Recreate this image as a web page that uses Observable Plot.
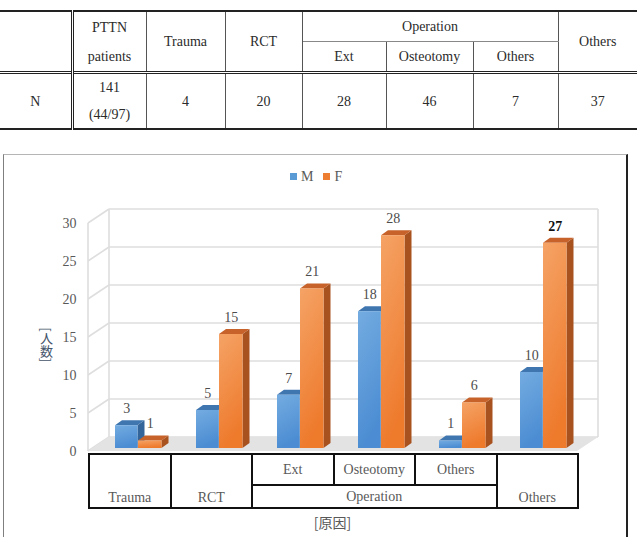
<!DOCTYPE html>
<html>
<head>
<meta charset="utf-8">
<script src="https://cdn.jsdelivr.net/npm/d3@7"></script>
<script src="https://cdn.jsdelivr.net/npm/@observablehq/plot@0.6"></script>
<style>
  html, body { margin: 0; padding: 0; background: #fff; width: 637px; height: 537px; overflow: hidden; }
  body { position: relative; }
  #summary {
    position: absolute; left: 0; top: 10px; width: 637px;
    border-collapse: collapse; table-layout: fixed;
    font: 14px "Liberation Serif", serif; color: #2b2b2b;
  }
  #summary th, #summary td { border: 1px solid #555; padding: 0; text-align: center; font-weight: normal; }
  #summary tr.h1 th { height: 29px; border-top: 2px solid #222; }
  #summary tr.h2 th { height: 29px; }
  #summary tr.n td { height: 51px; line-height: 27px; border-top: 3px double #222; border-bottom: 2px solid #222; }
  #summary .two { line-height: 29px; }
  #summary .corner { border-right: 3px double #222; border-left: none; }
  #summary .last { border-right: none; }
  #summary .op { border-bottom: 1px solid #888; }

  #chart-box {
    position: absolute; left: 3px; top: 154px; width: 622px; height: 420px;
    border-left: 1px solid #7f7f7f; border-top: 1px solid #b5b5b5; border-right: 2px solid #222;
    pointer-events: none;
  }
  #plot { position: absolute; left: 0; top: 150px; }
  #legend { position: absolute; left: 290px; top: 160px; }
  #legend, #legend * { font-family: "Liberation Serif", serif !important; font-size: 14px !important; color: #595959 !important; font-weight: normal !important; }
  #legend > div { margin: 0 !important; }
  #legend span { margin-right: 10px !important; }
  #legend span > svg { margin-right: 4px !important; }

  #cause-table {
    position: absolute; border-collapse: collapse; table-layout: fixed;
    font: 14px "Liberation Serif", serif; color: #595959;
  }
  #cause-table td { border: 2px solid #111; padding: 0; text-align: center; }
  #cause-table tr.r1 td { height: 29px; }
  #cause-table tr.r2 td { height: 21px; }
  #cause-table td.tall { vertical-align: bottom; padding-bottom: 1px; }
  #x-title {
    position: absolute; top: 512px; text-align: center;
    font: 14px "Noto Sans CJK JP", sans-serif; color: #595959;
  }
</style>
</head>
<body>
<div id="plot"></div>
<div id="legend"></div>
<div id="chart-box"></div>
<script>
// Summary table of PTTN patients by cause
const summaryHeads = ["PTTN\npatients", "Trauma", "RCT", "Operation", "Others"];
const operationHeads = ["Ext", "Osteotomy", "Others"];
const summaryRowLabel = "N";
const summaryCounts = ["141\n(44/97)", "4", "20", "28", "46", "7", "37"];

// Bar chart: patients by cause and sex
const causes = ["Trauma", "RCT", "Ext", "Osteotomy", "Op. others", "Others"];
const causeLabels = ["Trauma", "RCT", "Ext", "Osteotomy", "Others", "Others"];
const operationLabel = "Operation";
const sexes = ["M", "F"];
const male = [3, 5, 7, 18, 1, 10];
const female = [1, 15, 21, 28, 6, 27];
const yTicks = [0, 5, 10, 15, 20, 25, 30];
const yTitle = "[人数]";
const xTitle = "[原因]";

const rows = causes.flatMap((cause, i) => [
  {cause, sex: "M", count: male[i]},
  {cause, sex: "F", count: female[i]}
]);

// ---- summary table ----
const html = (s) => s.replace(/\n/g, "<br>");
const widths = [72, 74, 79, 77, 84, 87, 85, 79];
let t = `<table id="summary"><colgroup>${widths.map(w => `<col style="width:${w}px">`).join("")}</colgroup>`;
t += `<tr class="h1"><th rowspan="2" class="corner"></th>`;
t += `<th rowspan="2" class="two">${html(summaryHeads[0])}</th>`;
t += `<th rowspan="2">${summaryHeads[1]}</th><th rowspan="2">${summaryHeads[2]}</th>`;
t += `<th colspan="3" class="op">${summaryHeads[3]}</th>`;
t += `<th rowspan="2" class="last">${summaryHeads[4]}</th></tr>`;
t += `<tr class="h2">${operationHeads.map(h => `<th>${h}</th>`).join("")}</tr>`;
t += `<tr class="n"><td class="corner">${summaryRowLabel}</td>`;
t += summaryCounts.map((c, i) => `<td${i === summaryCounts.length - 1 ? ' class="last"' : ""}>${html(c)}</td>`).join("");
t += `</tr></table>`;
document.body.insertAdjacentHTML("afterbegin", t);

// ---- 3D-style bar chart ----
const wall = {dx: 21, dy: -14};   // depth of the floor and back wall
const lift = {dx: 4, dy: -3};     // bars sit a little behind the front edge
const slab = {dx: 7, dy: -5};     // bar depth
const gridColor = "#dedede";
const palette = {
  M: {front: ["#74ace1", "#4b8cd2"], top: "#3f76b0", side: "#34659a", swatch: "#5b9bd5"},
  F: {front: ["#f5a366", "#ee7a2c"], top: "#c6622a", side: "#a8521f", swatch: "#ed7d31"}
};

function walls(index, scales, values, dims) {
  const xl = dims.marginLeft, xr = dims.width - dims.marginRight;
  const ys = Array.from(index, i => values.y[i]);
  const yTop = d3.min(ys), yBot = d3.max(ys);
  const g = d3.create("svg:g").attr("fill", "none").attr("stroke", gridColor).attr("stroke-width", 1.6);
  const line = (x1, y1, x2, y2) => g.append("line").attr("x1", x1).attr("y1", y1).attr("x2", x2).attr("y2", y2);
  for (const y of ys) {
    line(xl + wall.dx, y + wall.dy, xr + wall.dx, y + wall.dy);
    line(xl, y, xl + wall.dx, y + wall.dy);
  }
  line(xl, yTop, xl, yBot);
  line(xl + wall.dx, yTop + wall.dy, xl + wall.dx, yBot + wall.dy);
  line(xr + wall.dx, yTop + wall.dy, xr + wall.dx, yBot + wall.dy);
  return g.node();
}

function floor(index, scales, values, dims) {
  const xl = dims.marginLeft, xr = dims.width - dims.marginRight;
  const y0 = values.y[index[0]];
  return d3.create("svg:path")
    .attr("d", `M${xl},${y0}L${xr},${y0}L${xr + wall.dx},${y0 + wall.dy}L${xl + wall.dx},${y0 + wall.dy}Z`)
    .attr("fill", "#e3e3e3")
    .node();
}

function bars3d(sex, insetLeft, insetRight) {
  const c = palette[sex];
  return Plot.barY(rows.filter(d => d.sex === sex), {
    x: "cause", y: "count", insetLeft, insetRight,
    render(index, scales, values) {
      const bw = scales.x.bandwidth();
      const g = d3.create("svg:g");
      const id = `front-${sex}`;
      const grad = g.append("defs").append("linearGradient")
        .attr("id", id).attr("x1", 0).attr("y1", 0).attr("x2", 0.25).attr("y2", 1);
      grad.append("stop").attr("offset", 0).attr("stop-color", c.front[0]);
      grad.append("stop").attr("offset", 1).attr("stop-color", c.front[1]);
      for (const i of index) {
        const x0 = values.x[i] + insetLeft + lift.dx;
        const x1 = values.x[i] + bw - insetRight + lift.dx;
        const yb = values.y1[i] + lift.dy;
        const yt = values.y2[i] + lift.dy;
        g.append("path").attr("fill", c.side)
          .attr("d", `M${x1},${yt}L${x1 + slab.dx},${yt + slab.dy}L${x1 + slab.dx},${yb + slab.dy}L${x1},${yb}Z`);
        g.append("path").attr("fill", c.top)
          .attr("d", `M${x0},${yt}L${x1},${yt}L${x1 + slab.dx},${yt + slab.dy}L${x0 + slab.dx},${yt + slab.dy}Z`);
        g.append("rect").attr("x", x0).attr("y", yt).attr("width", x1 - x0).attr("height", yb - yt)
          .attr("fill", `url(#${id})`);
      }
      return g.node();
    }
  });
}

// vertical (top-to-bottom) writing for the y-axis title
function verticalText(index, scales, values, dims, context, next) {
  const g = next(index, scales, values, dims, context);
  g.querySelectorAll("text").forEach(el => el.setAttribute("style", "writing-mode: vertical-rl; text-orientation: mixed"));
  return g;
}

const labelFont = {fontSize: 14, fontFamily: "'Liberation Serif', serif"};
const isPeak = d => d.sex === "F" && d.cause === "Others";

const chart = Plot.plot({
  width: 637,
  height: 310,
  marginLeft: 88,
  marginRight: 60,
  marginTop: 73,
  marginBottom: 9,
  x: {domain: causes, padding: 0, axis: null},
  y: {domain: [0, 30], ticks: yTicks, tickSize: 0, tickPadding: 12, label: null},
  style: {background: "transparent", color: "#595959", fontFamily: "'Liberation Serif', serif", fontSize: "14px", overflow: "visible"},
  marks: [
    Plot.ruleY(yTicks, {y: d => d, render: walls}),
    Plot.ruleY([0], {y: d => d, render: floor}),
    bars3d("M", 21, 37.5),
    bars3d("F", 44, 13.5),
    Plot.text(rows, {filter: d => d.sex === "M", x: "cause", y: "count", text: "count", dx: -4.25, dy: -20, fill: "#4d4d4d", ...labelFont}),
    Plot.text(rows, {filter: d => d.sex === "F" && !isPeak(d), x: "cause", y: "count", text: "count", dx: 19.25, dy: -20, fill: "#4d4d4d", ...labelFont}),
    Plot.text(rows, {filter: isPeak, x: "cause", y: "count", text: "count", dx: 19.25, dy: -20, fill: "#111", fontWeight: "bold", ...labelFont}),
    Plot.text([yTitle], {text: d => d, frameAnchor: "left", dx: -42, dy: 3, textAnchor: "middle", fontSize: 13,
      fontFamily: "'Noto Sans CJK JP', sans-serif", fill: "#44546a", render: verticalText})
  ]
});
document.getElementById("plot").append(chart);

// legend
const legend = Plot.legend({
  color: {domain: sexes, range: sexes.map(s => palette[s].swatch)},
  swatchSize: 7
});
document.getElementById("legend").append(legend);

// category table under the x axis, aligned with the band scale
const xs = chart.scale("x");
const x0 = xs.range[0], x1 = xs.range[1];
const step = (x1 - x0) / causes.length;
let ct = `<table id="cause-table" style="left:${x0}px;top:453px;width:${x1 - x0}px">`;
ct += `<colgroup>${causes.map(() => `<col style="width:${step}px">`).join("")}</colgroup>`;
ct += `<tr class="r1"><td rowspan="2" class="tall">${causeLabels[0]}</td><td rowspan="2" class="tall">${causeLabels[1]}</td>`;
ct += `<td>${causeLabels[2]}</td><td>${causeLabels[3]}</td><td>${causeLabels[4]}</td>`;
ct += `<td rowspan="2" class="tall">${causeLabels[5]}</td></tr>`;
ct += `<tr class="r2"><td colspan="3">${operationLabel}</td></tr></table>`;
document.body.insertAdjacentHTML("beforeend", ct);
document.body.insertAdjacentHTML("beforeend",
  `<div id="x-title" style="left:${x0}px;width:${x1 - x0}px">${xTitle}</div>`);
</script>
</body>
</html>
